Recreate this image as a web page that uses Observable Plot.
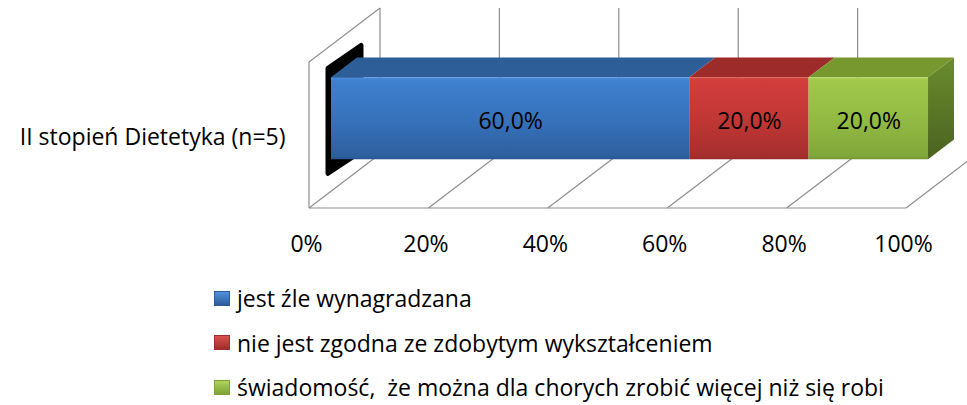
<!DOCTYPE html>
<html>
<head>
<meta charset="utf-8">
<script src="https://cdn.jsdelivr.net/npm/d3@7"></script>
<script src="https://cdn.jsdelivr.net/npm/@observablehq/plot@0.6"></script>
<style>
  html, body { margin: 0; padding: 0; background: #fff; }
  #chart { width: 967px; font-family: "Open Sans", Lato, sans-serif; color: #000; }
  .legend { margin-left: 214px; }
  .legend .row { height: 44.5px; display: flex; align-items: center; font-size: 23px; white-space: pre; }
  .legend .sw { width: 16px; height: 15px; margin-right: 7px; box-sizing: border-box; flex: none; }
</style>
</head>
<body>
<div id="chart"></div>
<script>
// ---- data ----
const categories = ["II stopień Dietetyka (n=5)"];
const seriesNames = [
  "jest źle wynagradzana",
  "nie jest zgodna ze zdobytym wykształceniem",
  "świadomość,  że można dla chorych zrobić więcej niż się robi"
];
const values = [0.6, 0.2, 0.2];
const dataLabels = ["60,0%", "20,0%", "20,0%"];
const xTicks = [0, 0.2, 0.4, 0.6, 0.8, 1];
const tickLabels = ["0%", "20%", "40%", "60%", "80%", "100%"];

// ---- styles ----
const FONT = "'Open Sans', Lato, sans-serif";
const FS = 23;
const frontFill = ["url(#gBlue)", "url(#gRed)", "url(#gGreen)"];
const topFill = ["#2E5E98", "#9C2B2A", "#77972F"];
const swatch = [["#5393DD", "#2B5C99"], ["#D9504D", "#A02C2B"], ["#AFD35A", "#7EA336"]];
const gridColor = "#8E8E8E";
const DX = 71, DY = -54;          // full depth of the 3D floor
const T1 = 0.31, T2 = 0.676;      // bar front / back depth fractions
const F = {dx: DX * T1, dy: DY * T1};
const B = {dx: DX * T2, dy: DY * T2};

const rows = seriesNames.map((s, i) => ({category: categories[0], series: s, value: values[i], label: dataLabels[i]}));

function defsMark() {
  const svg = d3.create("svg:g");
  const defs = svg.append("defs");
  const grad = (id, stops) => {
    const g = defs.append("linearGradient").attr("id", id).attr("x1", 0).attr("y1", 0).attr("x2", 0).attr("y2", 1);
    stops.forEach(([o, c]) => g.append("stop").attr("offset", o).attr("stop-color", c));
  };
  grad("gBlue", [[0, "#4C8EDC"], [0.04, "#3F81D0"], [0.5, "#3772BC"], [0.96, "#2D609F"], [1, "#28558D"]]);
  grad("gRed", [[0, "#DA4A47"], [0.04, "#D13E3C"], [0.5, "#C13735"], [0.96, "#A62E2D"], [1, "#952826"]]);
  grad("gGreen", [[0, "#ADD45A"], [0.04, "#A1C84B"], [0.5, "#93BB43"], [0.96, "#81A73A"], [1, "#739634"]]);
  grad("gSide", [[0, "#6B8C2D"], [1, "#4A6320"]]);
  return svg.node();
}

function bandOf(y) {
  return typeof y.bandwidth === "function" ? y.bandwidth() : y.bandwidth;
}

function wallsMark(index, scales, values, dims) {
  const {x} = scales;
  const top = dims.marginTop, bot = dims.height - dims.marginBottom;
  const g = d3.create("svg:g").attr("fill", "none").attr("stroke", gridColor).attr("stroke-width", 1.2);
  for (const t of xTicks) {
    g.append("line").attr("x1", x(t) + DX).attr("x2", x(t) + DX).attr("y1", top + DY).attr("y2", bot + DY);
    g.append("line").attr("x1", x(t)).attr("y1", bot).attr("x2", x(t) + DX).attr("y2", bot + DY);
  }
  g.append("path").attr("d", `M${x(0)},${bot}L${x(1)},${bot}M${x(0)},${bot}L${x(0)},${top}L${x(0) + DX},${top + DY}`);
  return g.node();
}

function facesMark(index, scales, values, dims) {
  const {x, y} = scales;
  const bw = bandOf(y);
  const yt = y(categories[0]), yb = yt + bw;
  const g = d3.create("svg:g");
  // black left end face
  const x0 = x(0);
  g.append("path")
    .attr("d", `M${x0 + F.dx - 3},${yt + F.dy - 9}L${x0 + B.dx + 4},${yt + B.dy - 12}L${x0 + B.dx + 4},${yb + B.dy + 12}L${x0 + F.dx - 3},${yb + F.dy + 14}Z`)
    .attr("fill", "#000").attr("stroke", "#000").attr("stroke-width", 5).attr("stroke-linejoin", "round");
  let cum = 0;
  rows.forEach((r, i) => {
    const a = x(cum), b = x(cum + r.value);
    cum += r.value;
    g.append("path")
      .attr("d", `M${a + F.dx},${yt + F.dy}L${b + F.dx},${yt + F.dy}L${b + B.dx},${yt + B.dy}L${a + B.dx},${yt + B.dy}Z`)
      .attr("fill", topFill[i]);
    if (i === rows.length - 1) {
      g.append("path")
        .attr("d", `M${b + F.dx},${yt + F.dy}L${b + B.dx},${yt + B.dy}L${b + B.dx},${yb + B.dy}L${b + F.dx},${yb + F.dy}Z`)
        .attr("fill", "url(#gSide)");
    }
  });
  return g.node();
}

const plot = Plot.plot({
  width: 967,
  height: 276,
  marginLeft: 309,
  marginRight: 61,
  marginTop: 62,
  marginBottom: 68,
  style: {fontFamily: FONT, fontSize: FS + "px", color: "#000", background: "#fff", overflow: "visible"},
  x: {domain: [0, 1], label: null},
  y: {domain: categories, padding: 0.28, label: null},
  color: {domain: seriesNames, range: frontFill},
  marks: [
    defsMark,
    wallsMark,
    facesMark,
    Plot.barX(rows, Plot.stackX({x: "value", y: "category", fill: "series", order: null, dx: F.dx, dy: F.dy})),
    Plot.text(rows, Plot.stackX({x: "value", y: "category", text: "label", order: null, dx: F.dx, dy: F.dy + 3, fill: "#000", fontSize: FS})),
    Plot.axisX(xTicks, {tickSize: 0, tickPadding: 27, dx: -3, fontSize: FS, fill: "#000", tickFormat: d => tickLabels[xTicks.indexOf(d)], label: null}),
    Plot.axisY({tickSize: 0, tickPadding: 24, dy: 2, fontSize: FS, fill: "#000", label: null})
  ]
});

const chart = document.getElementById("chart");
chart.appendChild(plot);

const legend = document.createElement("div");
legend.className = "legend";
seriesNames.forEach((s, i) => {
  const row = document.createElement("div");
  row.className = "row";
  const sw = document.createElement("span");
  sw.className = "sw";
  sw.style.background = `linear-gradient(to bottom, ${swatch[i][0]}, ${swatch[i][1]})`;
  sw.style.border = `1px solid ${swatch[i][1]}`;
  const t = document.createElement("span");
  t.textContent = s;
  row.appendChild(sw);
  row.appendChild(t);
  legend.appendChild(row);
});
chart.appendChild(legend);
</script>
</body>
</html>
